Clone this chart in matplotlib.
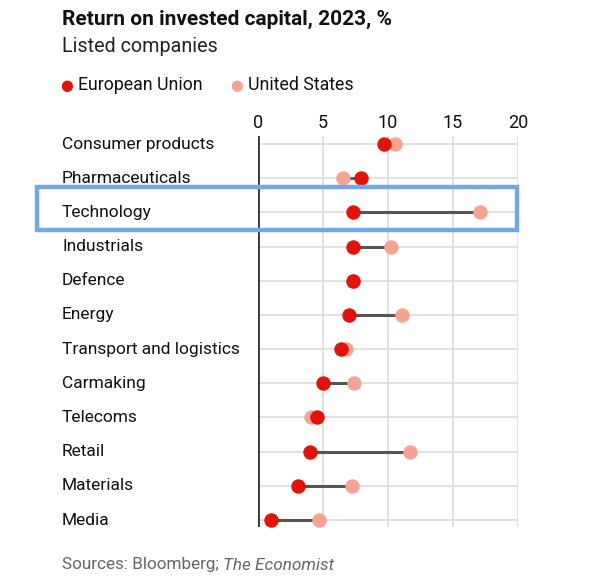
import matplotlib
matplotlib.use("Agg")
import matplotlib.pyplot as plt
from matplotlib.patches import Rectangle

# data
sectors = ["Consumer products", "Pharmaceuticals", "Technology", "Industrials",
           "Defence", "Energy", "Transport and logistics", "Carmaking",
           "Telecoms", "Retail", "Materials", "Media"]
eu = [9.7, 7.9, 7.3, 7.3, 7.3, 7.0, 6.4, 5.0, 4.5, 4.0, 3.1, 1.0]
us = [10.5, 6.5, 17.1, 10.2, 7.3, 11.1, 6.8, 7.4, 4.1, 11.7, 7.2, 4.7]
xticks = [0, 5, 10, 15, 20]

EU_RED = "#e3120b"
US_PINK = "#f5a494"
W, H = 591, 578

plt.rcParams["font.family"] = ["Roboto", "DejaVu Sans"]

fig = plt.figure(figsize=(W / 100, H / 100), dpi=100)
fig.patch.set_facecolor("white")


def fx(px):
    return px / W


def fy(py):
    return 1 - py / H


ax = fig.add_axes([fx(258), fy(527), fx(518) - fx(258), (527 - 136) / H])
row_gap = 34.2
ax.set_xlim(0, 20)
ax.set_ylim(11 + (527 - 520) / row_gap, -(144 - 136) / row_gap)

rows = list(range(len(sectors)))

# grid
for r in rows:
    ax.plot([0, 20], [r, r], color="#dcdcdc", lw=1.2, zorder=1)
for t in xticks[1:]:
    ax.axvline(t, color="#dcdcdc", lw=1.2, zorder=1)
ax.axvline(0, color="#333333", lw=2.0, zorder=2)

# dumbbells
for r, a, b in zip(rows, eu, us):
    ax.plot([a, b], [r, r], color="#555555", lw=2.2, zorder=3, solid_capstyle="butt")
ax.scatter(us, rows, s=108, color=US_PINK, zorder=4, linewidths=0)
ax.scatter(eu, rows, s=108, color=EU_RED, zorder=5, linewidths=0)

ax.set_xticks(xticks)
ax.set_xticklabels([str(t) for t in xticks])
ax.xaxis.tick_top()
ax.tick_params(axis="x", length=0, pad=3, labelsize=13, labelcolor="#111111")
ax.set_yticks(rows)
ax.set_yticklabels([])
ax.tick_params(axis="y", length=0)
for s in ax.spines.values():
    s.set_visible(False)

for r, name in zip(rows, sectors):
    fig.text(fx(62), fy(144 + row_gap * r), name, ha="left", va="center",
             fontsize=12.5, color="#111111")

# highlight box around Technology
fig.patches.append(Rectangle((fx(37), fy(230)), fx(517) - fx(37), (230 - 187) / H,
                             transform=fig.transFigure, fill=False,
                             edgecolor="#72aae8", lw=3.2, zorder=10))

# titles
fig.text(fx(62), fy(19), "Return on invested capital, 2023, %", ha="left", va="center",
         fontsize=15, fontweight="bold", color="#111111")
fig.text(fx(62), fy(46), "Listed companies", ha="left", va="center",
         fontsize=14.2, color="#222222")

# legend
fig.text(fx(67), fy(85), "\u25cf", ha="center", va="center", fontsize=10.5, color=EU_RED,
         family="DejaVu Sans")
fig.text(fx(78), fy(85), "European Union", ha="left", va="center", fontsize=12.8,
         color="#111111")
fig.text(fx(237), fy(85), "\u25cf", ha="center", va="center", fontsize=10.5, color=US_PINK,
         family="DejaVu Sans")
fig.text(fx(248), fy(85), "United States", ha="left", va="center", fontsize=12.8,
         color="#111111")

# source
src = fig.text(fx(62), fy(565), "Sources: Bloomberg; ", ha="left", va="center",
               fontsize=12.3, color="#666666")
fig.canvas.draw()
bb = src.get_window_extent()
fig.text(bb.x1 / W, fy(565), "The Economist", ha="left", va="center",
         fontsize=12.3, color="#666666", style="italic")

fig.savefig("out.png", dpi=100, facecolor="white")
